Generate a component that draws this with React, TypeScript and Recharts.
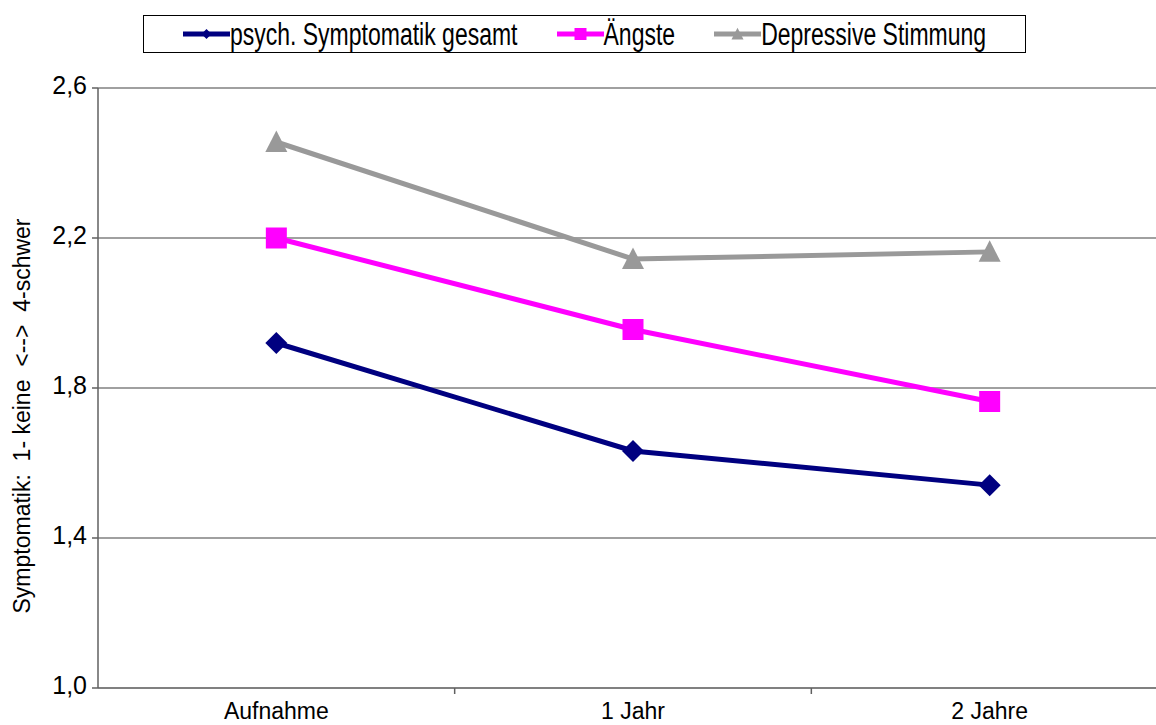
import { CartesianGrid, Legend, Line, LineChart, XAxis, YAxis } from "recharts";

const categories = ["Aufnahme", "1 Jahr", "2 Jahre"];
const gesamt = [1.92, 1.632, 1.541];
const aengste = [2.2, 1.956, 1.764];
const depressiv = [2.456, 2.144, 2.163];
const yTicks = [1.0, 1.4, 1.8, 2.2, 2.6];

const FONT = '"Liberation Sans", Arial, sans-serif';

// categories sit in the middle of each band; boundaries carry the tick marks
const data = categories.map((name, i) => ({
  name,
  pos: i + 0.5,
  gesamt: gesamt[i],
  aengste: aengste[i],
  depressiv: depressiv[i],
}));

const xTicks: number[] = [];
for (let i = 0; i <= categories.length * 2; i++) xTicks.push(i / 2);

const series = [
  { key: "gesamt", name: "psych. Symptomatik gesamt", color: "#000080", shape: "diamond" },
  { key: "aengste", name: "Ängste", color: "#FF00FF", shape: "square" },
  { key: "depressiv", name: "Depressive Stimmung", color: "#999999", shape: "triangle" },
];

function markerPath(shape: string, cx: number, cy: number, r: number) {
  if (shape === "diamond") {
    return `M${cx},${cy - r}L${cx + r},${cy}L${cx},${cy + r}L${cx - r},${cy}Z`;
  }
  if (shape === "square") {
    return `M${cx - r},${cy - r}h${2 * r}v${2 * r}h${-2 * r}Z`;
  }
  return `M${cx},${cy - r * 1.05}L${cx + r},${cy + r * 0.9}L${cx - r},${cy + r * 0.9}Z`;
}

const makeDot = (shape: string, color: string, r: number) => (props: any) => {
  const { cx, cy, index } = props;
  if (cx == null || cy == null) return <g key={index} />;
  return <path key={`${shape}-${index}`} d={markerPath(shape, cx, cy, r)} fill={color} stroke="none" />;
};

const XTick = (props: any) => {
  const { x, y, payload } = props;
  const v = payload.value as number;
  if (Number.isInteger(v)) {
    if (v === 0 || v === categories.length) return <g />;
    return <line x1={x} x2={x} y1={y} y2={y + 6} stroke="#606060" strokeWidth={1.5} />;
  }
  return (
    <text x={x} y={y + 31} textAnchor="middle" fontSize={23} fontFamily={FONT} fill="#000">
      {categories[Math.floor(v)]}
    </text>
  );
};

const LegendBox = () => (
  <div
    style={{
      boxSizing: "border-box",
      width: 883,
      height: 38,
      border: "1.5px solid #000",
      background: "#fff",
      display: "flex",
      alignItems: "center",
      justifyContent: "center",
      gap: 39,
      fontFamily: FONT,
      fontSize: 23,
      color: "#000",
    }}
  >
    {series.map((s) => (
      <div key={s.key} style={{ display: "flex", alignItems: "center" }}>
        <svg width={47} height={20}>
          <line x1={0} x2={47} y1={10} y2={10} stroke={s.color} strokeWidth={5} />
          <path d={markerPath(s.shape, 23.5, 10, s.shape === "diamond" ? 5 : 6)} fill={s.color} />
        </svg>
        <span style={{ display: "inline-block", transform: "scaleY(1.35)", lineHeight: 1 }}>{s.name}</span>
      </div>
    ))}
  </div>
);

const YLabel = () => (
  <text
    transform="translate(22, 416) rotate(-90)"
    textAnchor="middle"
    dominantBaseline="central"
    fontSize={23}
    fontFamily={FONT}
    fill="#000"
    style={{ whiteSpace: "pre" }}
  >
    {"Symptomatik:  1- keine  <-->  4-schwer"}
  </text>
);

export default function App() {
  return (
    <div
      style={{
        position: "absolute",
        left: 0,
        top: 0,
        width: 1156,
        height: 725,
        overflow: "hidden",
        background: "#fff",
      }}
    >
      <LineChart width={1180} height={725} data={data} margin={{ top: 88, right: 12, bottom: 0, left: 0 }}>
        <CartesianGrid horizontal vertical={false} stroke="#808080" strokeWidth={1.5} />
        <XAxis
          dataKey="pos"
          type="number"
          domain={[0, categories.length]}
          ticks={xTicks}
          interval={0}
          tickLine={false}
          tickSize={0}
          tickMargin={0}
          tick={<XTick />}
          height={37}
          axisLine={{ stroke: "#808080", strokeWidth: 2 }}
        />
        <YAxis
          type="number"
          domain={[1, 2.6]}
          ticks={yTicks}
          interval={0}
          width={98}
          tickSize={6}
          tickMargin={5}
          tickFormatter={(v: number) => v.toFixed(1).replace(".", ",")}
          tick={{ fontSize: 25, fontFamily: FONT, fill: "#000", dy: -3 }}
          tickLine={{ stroke: "#606060", strokeWidth: 1.5 }}
          axisLine={{ stroke: "#606060", strokeWidth: 1.5 }}
          label={{ content: <YLabel /> }}
        />
        <Legend
          layout="horizontal"
          verticalAlign="middle"
          align="center"
          wrapperStyle={{ top: 15, left: 143, width: 883, height: 38 }}
          content={<LegendBox />}
        />
        {series.map((s) => (
          <Line
            key={s.key}
            dataKey={s.key}
            name={s.name}
            stroke={s.color}
            strokeWidth={5}
            dot={makeDot(s.shape, s.color, s.shape === "square" ? 10.5 : 11)}
            activeDot={false}
            isAnimationActive={false}
          />
        ))}
      </LineChart>
    </div>
  );
}
